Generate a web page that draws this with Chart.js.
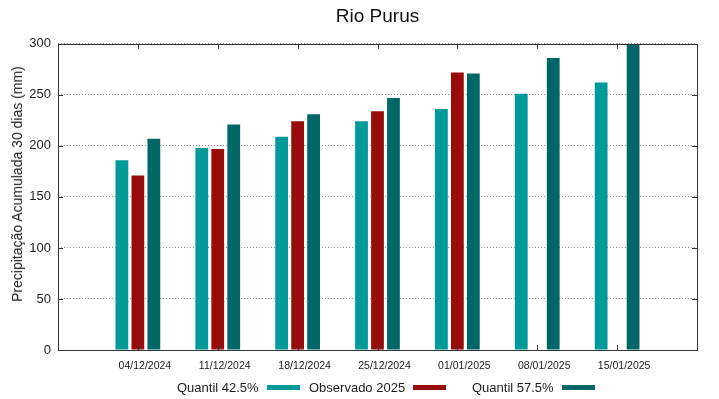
<!DOCTYPE html>
<html>
<head>
<meta charset="utf-8">
<script src="https://cdn.jsdelivr.net/npm/chart.js@4.4.1/dist/chart.umd.min.js"></script>
<style>
body { margin: 0; background: #fff; }
#wrap { position: relative; width: 719px; height: 399px; }
#ytitle { position: absolute; left: 17px; top: 184px; transform: translate(-50%, -50%) rotate(-90deg);
  font: 14px "Liberation Sans", Arial, sans-serif; color: #222; white-space: nowrap; }
#legend { position: absolute; top: 378px; left: 0; width: 719px; height: 18px;
  font: 13px "Liberation Sans", Arial, sans-serif; color: #222; }
.item { position: absolute; top: 0; height: 18px; display: flex; align-items: center; white-space: nowrap; }
.sw { display: inline-block; width: 33px; height: 5px; margin-left: 8px; }
</style>
</head>
<body>
<div id="wrap">
  <canvas id="chart" width="719" height="399"></canvas>
  <div id="ytitle">Precipitação Acumulada 30 dias (mm)</div>
  <div id="legend"></div>
</div>
<script>
const dates = ['04/12/2024', '11/12/2024', '18/12/2024', '25/12/2024', '01/01/2025', '08/01/2025', '15/01/2025'];
const quantil425 = [186, 198, 209, 224, 236, 251, 262];
const observado2025 = [171, 197, 224, 234, 272, null, null];
const quantil575 = [207, 221, 231, 247, 271, 286, 300];

const seriesNames = ['Quantil 42.5%', 'Observado 2025', 'Quantil 57.5%'];
const seriesColors = ['#009a9a', '#990c0c', '#006767'];
const legendLeft = [177, 309, 472];

Chart.defaults.font.family = '"Liberation Sans", Arial, sans-serif';
Chart.defaults.color = '#222';

function points(arr) {
  return arr.map((v, i) => ({ x: i, y: v }));
}

// gnuplot-like frame with inward tick marks
const framePlugin = {
  id: 'frame',
  afterDraw(chart) {
    const ctx = chart.ctx;
    const a = chart.chartArea;
    const xs = chart.scales.x, ys = chart.scales.y;
    ctx.save();
    ctx.strokeStyle = '#333';
    ctx.lineWidth = 1;
    ctx.beginPath();
    xs.ticks.forEach(t => {
      const px = Math.round(xs.getPixelForValue(t.value)) + 0.5;
      ctx.moveTo(px, a.bottom); ctx.lineTo(px, a.bottom - 5);
      ctx.moveTo(px, a.top); ctx.lineTo(px, a.top + 5);
    });
    ys.ticks.forEach(t => {
      const py = Math.round(ys.getPixelForValue(t.value)) + 0.5;
      ctx.moveTo(a.left, py); ctx.lineTo(a.left + 5, py);
      ctx.moveTo(a.right, py); ctx.lineTo(a.right - 5, py);
    });
    ctx.stroke();
    ctx.strokeRect(Math.round(a.left) + 0.5, Math.round(a.top) + 0.5,
      Math.round(a.right - a.left), Math.round(a.bottom - a.top));
    ctx.restore();
  }
};

const datasets = [quantil425, observado2025, quantil575].map((arr, i) => ({
  label: seriesNames[i],
  data: points(arr),
  backgroundColor: seriesColors[i],
  borderWidth: 0,
  categoryPercentage: 0.6,
  barPercentage: 0.8
}));

new Chart(document.getElementById('chart'), {
  type: 'bar',
  data: { datasets: datasets },
  plugins: [framePlugin],
  options: {
    responsive: false,
    animation: false,
    layout: { padding: { left: 0, right: 22, top: 0, bottom: 0 } },
    plugins: {
      legend: { display: false },
      tooltip: { enabled: false },
      title: {
        display: true,
        text: 'Rio Purus',
        fullSize: false,
        color: '#111',
        font: { size: 19, weight: 'normal' },
        padding: { top: 5, bottom: 16 }
      }
    },
    scales: {
      x: {
        type: 'linear',
        min: -1,
        max: 7,
        offset: false,
        grid: { display: false, drawTicks: false, offset: false },
        border: { display: false },
        afterBuildTicks: s => { s.ticks = dates.map((d, i) => ({ value: i })); },
        afterFit: s => { s.height = 49; },
        ticks: {
          font: { size: 10.5 },
          padding: 10,
          labelOffset: 7,
          autoSkip: false,
          maxRotation: 0,
          callback: v => dates[v] !== undefined ? dates[v] : ''
        }
      },
      y: {
        min: 0,
        max: 300,
        afterFit: s => { s.width = 58; },
        grid: { color: '#999', lineWidth: 1, drawTicks: false },
        border: { display: false, dash: [1, 2] },
        ticks: { stepSize: 50, font: { size: 13 }, padding: 7 }
      }
    }
  }
});

const legend = document.getElementById('legend');
seriesNames.forEach((name, i) => {
  const item = document.createElement('div');
  item.className = 'item';
  item.style.left = legendLeft[i] + 'px';
  item.innerHTML = '<span>' + name + '</span><span class="sw" style="background:' + seriesColors[i] + '"></span>';
  legend.appendChild(item);
});
</script>
</body>
</html>
